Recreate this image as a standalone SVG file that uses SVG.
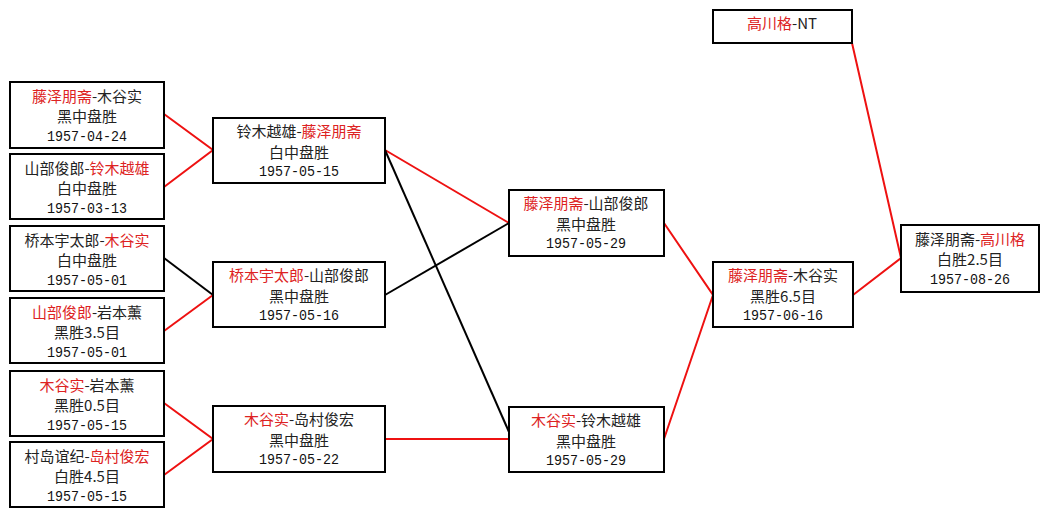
<svg xmlns="http://www.w3.org/2000/svg" width="1050" height="517" viewBox="0 0 1050 517">
<style>
.box{fill:#fff;stroke:#000;stroke-width:2}
.t{font-family:"Noto Sans CJK SC",sans-serif;font-size:15px;fill:#222;text-anchor:middle}
.d{font-family:"Liberation Mono","Noto Sans CJK SC",monospace;font-size:15px;fill:#111;text-anchor:middle}
.r{fill:#dd2222}
.lr{stroke:#ee1111;stroke-width:2;fill:none}
.lb{stroke:#000;stroke-width:2;fill:none}
</style>
<rect width="1050" height="517" fill="#fff"/>
<g id="connectors">
<polyline class="lr" points="164,114 213,150 164,187"/>
<line class="lb" x1="164" y1="258" x2="213" y2="295"/>
<line class="lr" x1="164" y1="331" x2="213" y2="295"/>
<polyline class="lr" points="164,403 213,439 164,475"/>
<line class="lr" x1="385" y1="150" x2="509" y2="223"/>
<line class="lb" x1="385" y1="150" x2="509" y2="432"/>
<line class="lb" x1="385" y1="295" x2="509" y2="223"/>
<line class="lr" x1="385" y1="439" x2="509" y2="439"/>
<polyline class="lr" points="664,223 713,295 664,439"/>
<polyline class="lr" points="852,43 901,258 853,295"/>
</g>
<g id="n1"><rect class="box" x="10" y="82" width="154" height="66"/>
<text class="t" x="87" y="102"><tspan class="r">藤泽朋斋</tspan>-木谷实</text>
<text class="t" x="87" y="122">黑中盘胜</text><text class="d" x="87" y="141" textLength="80" lengthAdjust="spacingAndGlyphs">1957-04-24</text></g>
<g id="n2"><rect class="box" x="10" y="154" width="154" height="65"/>
<text class="t" x="87" y="174">山部俊郎-<tspan class="r">铃木越雄</tspan></text>
<text class="t" x="87" y="194">白中盘胜</text><text class="d" x="87" y="213" textLength="80" lengthAdjust="spacingAndGlyphs">1957-03-13</text></g>
<g id="n3"><rect class="box" x="10" y="226" width="154" height="65"/>
<text class="t" x="87" y="246">桥本宇太郎-<tspan class="r">木谷实</tspan></text>
<text class="t" x="87" y="266">白中盘胜</text><text class="d" x="87" y="285" textLength="80" lengthAdjust="spacingAndGlyphs">1957-05-01</text></g>
<g id="n4"><rect class="box" x="10" y="298" width="154" height="65"/>
<text class="t" x="87" y="318"><tspan class="r">山部俊郎</tspan>-岩本薰</text>
<text class="t" x="87" y="338">黑胜3.5目</text><text class="d" x="87" y="357" textLength="80" lengthAdjust="spacingAndGlyphs">1957-05-01</text></g>
<g id="n5"><rect class="box" x="10" y="371" width="154" height="65"/>
<text class="t" x="87" y="391"><tspan class="r">木谷实</tspan>-岩本薰</text>
<text class="t" x="87" y="411">黑胜0.5目</text><text class="d" x="87" y="430" textLength="80" lengthAdjust="spacingAndGlyphs">1957-05-15</text></g>
<g id="n6"><rect class="box" x="10" y="442" width="154" height="65"/>
<text class="t" x="87" y="462">村岛谊纪-<tspan class="r">岛村俊宏</tspan></text>
<text class="t" x="87" y="482">白胜4.5目</text><text class="d" x="87" y="501" textLength="80" lengthAdjust="spacingAndGlyphs">1957-05-15</text></g>
<g id="m1"><rect class="box" x="213" y="118" width="172" height="65"/>
<text class="t" x="299" y="137">铃木越雄-<tspan class="r">藤泽朋斋</tspan></text>
<text class="t" x="299" y="158">白中盘胜</text><text class="d" x="299" y="176" textLength="80" lengthAdjust="spacingAndGlyphs">1957-05-15</text></g>
<g id="m2"><rect class="box" x="213" y="262" width="172" height="65"/>
<text class="t" x="299" y="281"><tspan class="r">桥本宇太郎</tspan>-山部俊郎</text>
<text class="t" x="299" y="302">黑中盘胜</text><text class="d" x="299" y="320" textLength="80" lengthAdjust="spacingAndGlyphs">1957-05-16</text></g>
<g id="m3"><rect class="box" x="213" y="406" width="172" height="66"/>
<text class="t" x="299" y="425"><tspan class="r">木谷实</tspan>-岛村俊宏</text>
<text class="t" x="299" y="446">黑中盘胜</text><text class="d" x="299" y="464" textLength="80" lengthAdjust="spacingAndGlyphs">1957-05-22</text></g>
<g id="s1"><rect class="box" x="509" y="190" width="155" height="66"/>
<text class="t" x="586" y="209"><tspan class="r">藤泽朋斋</tspan>-山部俊郎</text>
<text class="t" x="586" y="230">黑中盘胜</text><text class="d" x="586" y="248" textLength="80" lengthAdjust="spacingAndGlyphs">1957-05-29</text></g>
<g id="s2"><rect class="box" x="509" y="407" width="155" height="65"/>
<text class="t" x="586" y="426"><tspan class="r">木谷实</tspan>-铃木越雄</text>
<text class="t" x="586" y="447">黑中盘胜</text><text class="d" x="586" y="465" textLength="80" lengthAdjust="spacingAndGlyphs">1957-05-29</text></g>
<g id="f0"><rect class="box" x="713" y="10" width="139" height="33"/>
<text class="t" x="782" y="29"><tspan class="r">高川格</tspan>-NT</text></g>
<g id="f1"><rect class="box" x="713" y="262" width="140" height="65"/>
<text class="t" x="783" y="281"><tspan class="r">藤泽朋斋</tspan>-木谷实</text>
<text class="t" x="783" y="302">黑胜6.5目</text><text class="d" x="783" y="320" textLength="80" lengthAdjust="spacingAndGlyphs">1957-06-16</text></g>
<g id="w"><rect class="box" x="901" y="225" width="138" height="67"/>
<text class="t" x="970" y="245">藤泽朋斋-<tspan class="r">高川格</tspan></text>
<text class="t" x="970" y="265">白胜2.5目</text><text class="d" x="970" y="284" textLength="80" lengthAdjust="spacingAndGlyphs">1957-08-26</text></g>
</svg>
